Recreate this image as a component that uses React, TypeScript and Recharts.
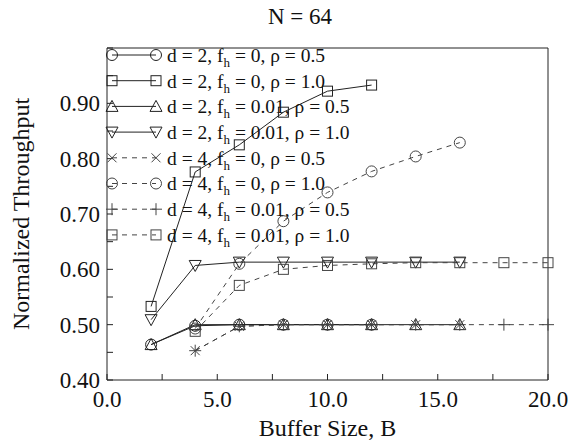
import { Legend, Line, LineChart, XAxis, YAxis } from "recharts";

const TITLE = "N = 64";
const X_LABEL = "Buffer Size, B";
const Y_LABEL = "Normalized Throughput";

const X_TICKS = [0, 2.5, 5, 7.5, 10, 12.5, 15, 17.5, 20];
const Y_TICKS = [0.4, 0.45, 0.5, 0.55, 0.6, 0.65, 0.7, 0.75, 0.8, 0.85, 0.9, 0.95, 1.0];

// buffer sizes used by each group of runs
const B_2_TO_12 = [2, 4, 6, 8, 10, 12];
const B_2_TO_16 = [2, 4, 6, 8, 10, 12, 14, 16];
const B_4_TO_16 = [4, 6, 8, 10, 12, 14, 16];
const B_4_TO_20 = [4, 6, 8, 10, 12, 14, 16, 18, 20];

// normalized throughput
const d2_f0_r05 = [0.464, 0.498, 0.5, 0.5, 0.5, 0.5];
const d2_f0_r10 = [0.533, 0.776, 0.825, 0.884, 0.922, 0.933];
const d2_f01_r05 = [0.464, 0.5, 0.5, 0.5, 0.5, 0.5, 0.5, 0.5];
const d2_f01_r10 = [0.509, 0.607, 0.613, 0.613, 0.613, 0.613, 0.613, 0.613];
const d4_f0_r05 = [0.453, 0.497, 0.5, 0.5, 0.5, 0.5, 0.5];
const d4_f0_r10 = [0.493, 0.61, 0.687, 0.739, 0.777, 0.804, 0.829];
const d4_f01_r05 = [0.453, 0.497, 0.5, 0.5, 0.5, 0.5, 0.5, 0.5, 0.5];
const d4_f01_r10 = [0.488, 0.571, 0.6, 0.607, 0.61, 0.612, 0.612, 0.612, 0.612];

type Marker = "circle" | "square" | "triUp" | "triDown" | "cross" | "plus";

const SERIES: {
  key: string;
  d: string;
  fh: string;
  rho: string;
  xs: number[];
  ys: number[];
  marker: Marker;
  dashed: boolean;
}[] = [
  { key: "s1", d: "2", fh: "0", rho: "0.5", xs: B_2_TO_12, ys: d2_f0_r05, marker: "circle", dashed: false },
  { key: "s2", d: "2", fh: "0", rho: "1.0", xs: B_2_TO_12, ys: d2_f0_r10, marker: "square", dashed: false },
  { key: "s3", d: "2", fh: "0.01", rho: "0.5", xs: B_2_TO_16, ys: d2_f01_r05, marker: "triUp", dashed: false },
  { key: "s4", d: "2", fh: "0.01", rho: "1.0", xs: B_2_TO_16, ys: d2_f01_r10, marker: "triDown", dashed: false },
  { key: "s5", d: "4", fh: "0", rho: "0.5", xs: B_4_TO_16, ys: d4_f0_r05, marker: "cross", dashed: true },
  { key: "s6", d: "4", fh: "0", rho: "1.0", xs: B_4_TO_16, ys: d4_f0_r10, marker: "circle", dashed: true },
  { key: "s7", d: "4", fh: "0.01", rho: "0.5", xs: B_4_TO_20, ys: d4_f01_r05, marker: "plus", dashed: true },
  { key: "s8", d: "4", fh: "0.01", rho: "1.0", xs: B_4_TO_20, ys: d4_f01_r10, marker: "square", dashed: true },
];

const FONT = "'Liberation Serif', 'DejaVu Serif', serif";
const INK = "#222";
const DASH_INK = "#444";

function MarkerShape({ kind, cx, cy, color }: { kind: Marker; cx: number; cy: number; color: string }) {
  const p = { fill: "none", stroke: color, strokeWidth: 1 };
  switch (kind) {
    case "circle":
      return <circle cx={cx} cy={cy} r={5.5} {...p} />;
    case "square":
      return <rect x={cx - 5} y={cy - 5} width={10} height={10} {...p} />;
    case "triUp":
      return <polygon points={`${cx},${cy - 6} ${cx - 6},${cy + 5} ${cx + 6},${cy + 5}`} {...p} />;
    case "triDown":
      return <polygon points={`${cx},${cy + 6} ${cx - 6},${cy - 5} ${cx + 6},${cy - 5}`} {...p} />;
    case "cross":
      return <path d={`M${cx - 4.5},${cy - 4.5}L${cx + 4.5},${cy + 4.5}M${cx - 4.5},${cy + 4.5}L${cx + 4.5},${cy - 4.5}`} {...p} />;
    case "plus":
      return <path d={`M${cx - 6},${cy}L${cx + 6},${cy}M${cx},${cy - 6}L${cx},${cy + 6}`} {...p} />;
  }
}

const isMajor = (v: number, step: number) => Math.abs(v / step - Math.round(v / step)) < 1e-6;
const TICK_LEN = 6;

// ticks point inward on all four sides, labels only on the left/bottom
function LeftTick({ x, y, payload }: any) {
  const v = payload.value as number;
  return (
    <g>
      <line x1={x} x2={x + TICK_LEN} y1={y} y2={y} stroke={INK} />
      {isMajor(v, 0.1) && v < 0.95 && (
        <text x={x - 7} y={y} dy="0.35em" textAnchor="end" fontSize={23} fontFamily={FONT} fill="#111">
          {v.toFixed(2)}
        </text>
      )}
    </g>
  );
}

function RightTick({ x, y }: any) {
  return <line x1={x} x2={x - TICK_LEN} y1={y} y2={y} stroke={INK} />;
}

function BottomTick({ x, y, payload }: any) {
  const v = payload.value as number;
  return (
    <g>
      <line x1={x} x2={x} y1={y} y2={y - TICK_LEN} stroke={INK} />
      {isMajor(v, 5) && (
        <text x={x} y={y + 27} textAnchor="middle" fontSize={23} fontFamily={FONT} fill="#111">
          {v.toFixed(1)}
        </text>
      )}
    </g>
  );
}

function TopTick({ x, y }: any) {
  return <line x1={x} x2={x} y1={y} y2={y + TICK_LEN} stroke={INK} />;
}

function PlotLegend() {
  const rowH = 25.7;
  return (
    <svg width={260} height={8 * rowH + 10} style={{ overflow: "visible" }}>
      {SERIES.map((s, i) => {
        const cy = 13 + i * rowH;
        const color = s.dashed ? DASH_INK : INK;
        return (
          <g key={s.key}>
            <line x1={17} x2={61} y1={cy} y2={cy} stroke={color} strokeDasharray={s.dashed ? "5 5" : undefined} />
            <MarkerShape kind={s.marker} cx={17} cy={cy} color={color} />
            <MarkerShape kind={s.marker} cx={61} cy={cy} color={color} />
            <text x={72} y={cy} dy="0.35em" fontSize={19.5} fontFamily={FONT} fill="#111">
              d = {s.d}, f
              <tspan dy={5} fontSize={13}>h</tspan>
              <tspan dy={-5}>{` = ${s.fh}, ρ = ${s.rho}`}</tspan>
            </text>
          </g>
        );
      })}
    </svg>
  );
}

export default function App() {
  return (
    <div style={{ position: "absolute", left: 0, top: 0, width: 572, height: 444, background: "#fff" }}>
      <div
        style={{
          position: "absolute",
          left: 200,
          width: 200,
          top: 4,
          textAlign: "center",
          fontFamily: FONT,
          fontSize: 23,
          color: "#111",
        }}
      >
        {TITLE}
      </div>
      <LineChart width={572} height={444} margin={{ top: 0, right: 0, bottom: 0, left: 0 }}>
        <XAxis
          xAxisId="bottom"
          dataKey="x"
          type="number"
          domain={[0, 20]}
          ticks={X_TICKS}
          height={64}
          tickSize={0}
          tickMargin={0}
          tick={<BottomTick />}
          axisLine={{ stroke: INK }}
          label={{ value: X_LABEL, position: "insideBottom", offset: 8, fontSize: 24, fontFamily: FONT, fill: "#111" }}
        />
        <XAxis
          xAxisId="top"
          orientation="top"
          type="number"
          domain={[0, 20]}
          ticks={X_TICKS}
          height={48}
          tickSize={0}
          tickMargin={0}
          tick={<TopTick />}
          axisLine={{ stroke: INK }}
        />
        <YAxis
          yAxisId="left"
          type="number"
          domain={[0.4, 1.0]}
          ticks={Y_TICKS}
          width={107}
          tickSize={0}
          tickMargin={0}
          tick={<LeftTick />}
          axisLine={{ stroke: INK }}
          label={{
            value: Y_LABEL,
            angle: -90,
            position: "insideLeft",
            offset: 20,
            style: { textAnchor: "middle" },
            fontSize: 24,
            fontFamily: FONT,
            fill: "#111",
          }}
        />
        <YAxis
          yAxisId="right"
          orientation="right"
          type="number"
          domain={[0.4, 1.0]}
          ticks={Y_TICKS}
          width={24}
          tickSize={0}
          tickMargin={0}
          tick={<RightTick />}
          axisLine={{ stroke: INK }}
        />
        {SERIES.map((s) => {
          const color = s.dashed ? DASH_INK : INK;
          return (
            <Line
              key={s.key}
              xAxisId="bottom"
              yAxisId="left"
              data={s.xs.map((x, i) => ({ x, y: s.ys[i] }))}
              dataKey="y"
              name={s.key}
              stroke={color}
              strokeWidth={1}
              strokeDasharray={s.dashed ? "5 5" : undefined}
              type="linear"
              dot={(p: any) => <MarkerShape key={`${s.key}-${p.index}`} kind={s.marker} cx={p.cx} cy={p.cy} color={color} />}
              activeDot={false}
              isAnimationActive={false}
            />
          );
        })}
        <Legend
          layout="vertical"
          align="center"
          verticalAlign="middle"
          content={() => <PlotLegend />}
          wrapperStyle={{ top: 42, left: 95, width: 260, height: 225 }}
        />
      </LineChart>
    </div>
  );
}
